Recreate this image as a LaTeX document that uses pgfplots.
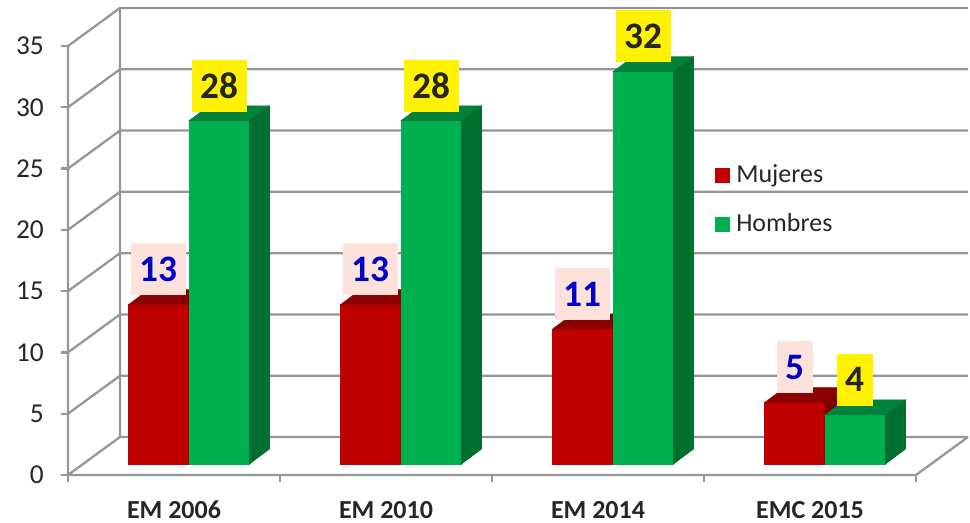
\documentclass[border=0pt]{standalone}
\usepackage{fontspec}
\setmainfont{Carlito}
\usepackage{pgfplots}
\pgfplotsset{compat=1.18}
\definecolor{gridgray}{RGB}{150,150,150}
\definecolor{txt}{RGB}{38,38,38}
\definecolor{redF}{RGB}{192,0,0}
\definecolor{redT}{RGB}{140,0,0}
\definecolor{redS}{RGB}{128,0,0}
\definecolor{grnF}{RGB}{0,176,80}
\definecolor{grnT}{RGB}{0,130,58}
\definecolor{grnS}{RGB}{0,112,48}
\definecolor{pinkbox}{RGB}{252,226,218}
\definecolor{bluetxt}{RGB}{0,0,204}
\pgfplotsset{/pgf/number format/assume math mode=true}

% front, top and side faces of a bar, drawn at its top front centre point
% #1 left edge (pt), #2 front colour, #3 top colour, #4 side colour
\newcommand\barfaces[4]{%
  \pgfmathsetlengthmacro\hh{\barval*9.1929pt}%
  \fill[#2] (#1pt,0pt) rectangle ({#1pt+45.375pt},-\hh);
  \fill[#3] (#1pt,0pt) -- ({#1pt+45.375pt},0pt) -- ({#1pt+60.375pt},11.25pt) -- ({#1pt+15pt},11.25pt) -- cycle;
  \fill[#4] ({#1pt+45.375pt},0pt) -- ({#1pt+60.375pt},11.25pt) -- ({#1pt+60.375pt},{11.25pt-\hh}) -- ({#1pt+45.375pt},-\hh) -- cycle;
}

\begin{document}
\begin{tikzpicture}
\path[use as bounding box] (0pt,0pt) rectangle (727.5pt,392.25pt);

% front plane: value axis, floor and walls
\begin{axis}[
  at={(51pt,36pt)}, anchor=south west,
  scale only axis, width=636pt, height=321.75pt,
  xmin=0, xmax=4, ymin=0, ymax=35,
  clip=false,
  axis line style={draw=none},
  ytick={0,5,...,35}, ytick pos=left,
  xtick={0,1,2,3,4}, xtick pos=bottom, xticklabels={,,,,},
  extra x ticks={0.5,1.5,2.5,3.5},
  extra x tick labels={EM 2006,EM 2010,EM 2014,EMC 2015},
  extra x tick style={major tick length=0pt,
    xticklabel style={anchor=base, inner sep=0pt, yshift=-33pt,
      font=\fontsize{19.5}{22}\selectfont\bfseries}},
  tick align=outside, major tick length=5.25pt,
  tick style={draw=gridgray, line width=1.7pt},
  yticklabel style={inner sep=0pt, xshift=-12.75pt, anchor=east},
  tick label style={font=\fontsize{20.5}{24}\selectfont, text=txt},
]
\draw[gridgray, line width=1.7pt, line join=round]
  (0,0) -- (0.2453,3.1) -- (4.2453,3.1)
  (0,5) -- (0.2453,8.1) -- (4.2453,8.1)
  (0,10) -- (0.2453,13.1) -- (4.2453,13.1)
  (0,15) -- (0.2453,18.1) -- (4.2453,18.1)
  (0,20) -- (0.2453,23.1) -- (4.2453,23.1)
  (0,25) -- (0.2453,28.1) -- (4.2453,28.1)
  (0,30) -- (0.2453,33.1) -- (4.2453,33.1)
  (0,35) -- (0.2453,38.1) -- (4.2453,38.1)
  (0.2453,3.1) -- (0.2453,38.1)
  (0,35) -- (0,0) -- (4,0) -- (4.2453,3.1);
\end{axis}

% bar plane, a little behind the front plane
\begin{axis}[
  at={(62.25pt,44.25pt)}, anchor=south west,
  scale only axis, width=636pt, height=321.75pt,
  xmin=0, xmax=4, ymin=0, ymax=35,
  hide axis, clip=false,
  legend cell align=left,
  legend style={at={(0.7453,0.701)}, anchor=north west, draw=none, fill=none,
    inner sep=0pt, row sep=18.75pt, text=txt,
    font=\fontsize{19.5}{22}\selectfont,
    nodes={inner sep=0pt, text height=14pt, text depth=4pt},
    /tikz/every odd column/.append style={column sep=4.5pt}},
]
\addplot[ybar, bar width=45.375pt, bar shift=-22.6875pt, fill=redF, draw=none,
  legend image code/.code={\fill[redF] (0pt,-5.625pt) rectangle (11.25pt,5.625pt);}]
  coordinates {(0.5,13) (1.5,13) (2.5,11) (3.5,5)};
\addlegendentry{Mujeres}
\addplot[ybar, bar width=45.375pt, bar shift=22.6875pt, fill=grnF, draw=none,
  legend image code/.code={\fill[grnF] (0pt,-5.625pt) rectangle (11.25pt,5.625pt);}]
  coordinates {(0.5,28) (1.5,28) (2.5,32) (3.5,4)};
\addlegendentry{Hombres}
% 3d faces of the bars (marks are painted after the bar plots)
\addplot[forget plot, only marks, scatter, mark=*, mark size=0pt,
  visualization depends on={rawy \as \barval},
  scatter/@pre marker code/.code={\barfaces{-45.375}{redF}{redT}{redS}},
  scatter/@post marker code/.code={}]
  coordinates {(0.5,13) (1.5,13) (2.5,11) (3.5,5)};
\addplot[forget plot, only marks, scatter, mark=*, mark size=0pt,
  visualization depends on={rawy \as \barval},
  scatter/@pre marker code/.code={\barfaces{0}{grnF}{grnT}{grnS}},
  scatter/@post marker code/.code={}]
  coordinates {(0.5,28) (1.5,28) (2.5,32) (3.5,4)};
% value labels
\addplot[forget plot, draw=none, mark=none, nodes near coords,
  nodes near coords style={anchor=south, xshift=-22.6875pt, yshift=6.75pt,
    fill=pinkbox, text=bluetxt, font=\fontsize{28}{30}\selectfont\bfseries,
    minimum height=39pt, inner xsep=6.4pt, inner ysep=0pt}]
  coordinates {(0.5,13) (1.5,13) (2.5,11) (3.5,5)};
\addplot[forget plot, draw=none, mark=none, nodes near coords,
  nodes near coords style={anchor=south, xshift=22.6875pt, yshift=6.75pt,
    fill=yellow, text=txt, font=\fontsize{28}{30}\selectfont\bfseries,
    minimum height=39pt, inner xsep=6.4pt, inner ysep=0pt}]
  coordinates {(0.5,28) (1.5,28) (2.5,32) (3.5,4)};
\end{axis}
\end{tikzpicture}
\end{document}
